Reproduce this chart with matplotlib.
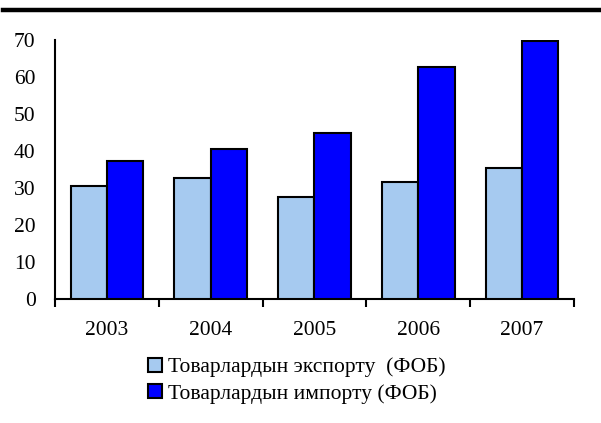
import matplotlib
matplotlib.use("Agg")
import matplotlib.pyplot as plt
from matplotlib.lines import Line2D
from matplotlib.patches import Patch
import numpy as np

years = ["2003", "2004", "2005", "2006", "2007"]
exports = [30.5, 32.8, 27.7, 31.7, 35.4]
imports = [37.4, 40.6, 44.9, 62.8, 69.8]
yticks = [0, 10, 20, 30, 40, 50, 60, 70]
label_exp = "Товарлардын экспорту  (ФОБ)"
label_imp = "Товарлардын импорту (ФОБ)"

plt.rcParams['font.family'] = ['Liberation Serif', 'DejaVu Serif']
FS = 15.5

fig = plt.figure(figsize=(6.01, 4.23), dpi=100)
ax = fig.add_axes([0.0915, 0.2931, 0.8635, 0.6123])

x = np.arange(len(years))
w = 0.35
ax.bar(x - w/2, exports, width=w, color='#a6caf0', edgecolor='black', linewidth=1.5, zorder=3)
ax.bar(x + w/2, imports, width=w, color='#0000ff', edgecolor='black', linewidth=1.5, zorder=3)

ax.set_xlim(-0.5, len(years) - 0.5)
ax.set_ylim(0, 70)
ax.set_yticks(yticks)
ax.set_yticklabels([str(t) for t in yticks], fontsize=FS)
ax.tick_params(axis='y', length=0, pad=14)
ax.set_xticks(x)
ax.set_xticklabels(years, fontsize=FS)
ax.tick_params(axis='x', which='major', length=0, pad=16)
ax.set_xticks(np.arange(-0.5, len(years)), minor=True)
ax.tick_params(axis='x', which='minor', length=6, width=1.5, direction='out')

for s in ['top', 'right']:
    ax.spines[s].set_visible(False)
for s in ['left', 'bottom']:
    ax.spines[s].set_linewidth(1.5)

handles = [Patch(facecolor='#a6caf0', edgecolor='black', linewidth=1.5),
           Patch(facecolor='#0000ff', edgecolor='black', linewidth=1.5)]
fig.legend(handles, [label_exp, label_imp], loc='upper left',
           bbox_to_anchor=(0.229, 0.18), frameon=False, fontsize=FS,
           handlelength=0.65, handleheight=0.65, handletextpad=0.25,
           labelspacing=0.3, borderpad=0)

fig.add_artist(Line2D([0.005, 1.0], [0.9775, 0.9775], transform=fig.transFigure,
                      color='black', linewidth=3.2))

fig.savefig("out.png", dpi=100)
